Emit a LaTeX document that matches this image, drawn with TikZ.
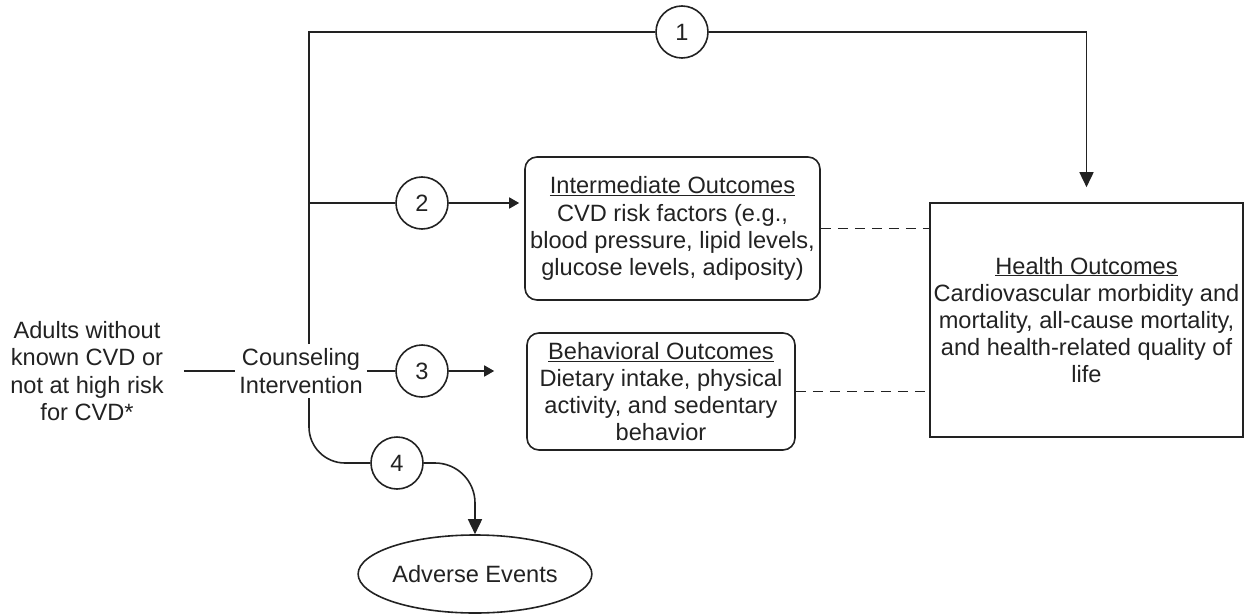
\documentclass[tikz,border=0pt]{standalone}
\usepackage{fontspec}
\setmainfont{Liberation Sans}
\usetikzlibrary{arrows.meta,shapes.geometric}
\definecolor{ink}{HTML}{222222}
\begin{document}
\begin{tikzpicture}[x=1pt,y=-1pt,
  every node/.style={font=\fontsize{23.6}{27.2}\selectfont, text=ink, align=center},
  conn/.style={draw=ink, line width=1.6pt},
  numcirc/.style={circle, draw=ink, line width=1.6pt, minimum size=52pt, inner sep=0pt},
  outbox/.style={draw=ink, line width=1.6pt, rounded corners=12pt, inner sep=0pt},
  bigtip/.style={-{Triangle[length=15pt,width=14pt]}},
  smalltip/.style={-{Triangle[length=10pt,width=11pt]}},
  dashlink/.style={draw=ink, line width=1.6pt, dash pattern=on 10pt off 7pt}
]
\useasboundingbox (0,0) rectangle (1244,615);

\node (adults) [inner xsep=20pt, inner ysep=0pt] at (87,371) {Adults without\\known CVD or\\not at high risk\\for CVD*};
\node (counsel) [inner xsep=4pt, inner ysep=0pt] at (301,371) {Counseling\\Intervention};

\node (c1) [numcirc] at (682,32) {1};
\node (c2) [numcirc] at (422,203) {2};
\node (c3) [numcirc] at (422,371) {3};
\node (c4) [numcirc] at (397,463) {4};

\node (inter) [outbox, minimum width=295pt, minimum height=143pt] at (672.5,228.5)
  {\underline{Intermediate Outcomes}\\CVD risk factors (e.g.,\\blood pressure, lipid levels,\\glucose levels, adiposity)};
\node (behav) [outbox, minimum width=268pt, minimum height=117pt] at (661,391.5)
  {\underline{Behavioral Outcomes}\\Dietary intake, physical\\activity, and sedentary\\behavior};
\node (health) [draw=ink, line width=1.6pt, inner sep=0pt, minimum width=313pt, minimum height=234pt] at (1086.5,320)
  {\underline{Health Outcomes}\\Cardiovascular morbidity and\\mortality, all-cause mortality,\\and health-related quality of\\life};
\node (adverse) [ellipse, draw=ink, line width=1.6pt, inner sep=0pt, minimum width=196pt, minimum height=78pt] at (475,574) {Adverse Events};

\coordinate (vtop) at (309,344);
\coordinate (vbot) at (309,398);

% main line
\draw[conn] (adults.east) -- (counsel.west);
% path 1
\draw[conn] (vtop) |- (c1.west);
\draw[conn, bigtip, shorten >=15pt] (c1.east) -| (health.north);
% path 2
\draw[conn] (vtop |- c2) -- (c2.west);
\draw[conn, smalltip, shorten >=5pt] (c2.east) -- (c2.east -| inter.west);
% path 3
\draw[conn] (counsel.east |- c3) -- (c3.west);
\draw[conn, smalltip, shorten >=32pt] (c3.east) -- (c3.east -| behav.west);
% path 4
\draw[conn, rounded corners=36pt] (vbot) |- (c4.west);
\draw[conn, bigtip, rounded corners=40pt] (c4.east) -| (adverse.north);
% dashed links
\draw[dashlink] (inter.east) -- (inter.east -| health.west);
\draw[dashlink] (behav.east) -- (behav.east -| health.west);
\end{tikzpicture}
\end{document}
